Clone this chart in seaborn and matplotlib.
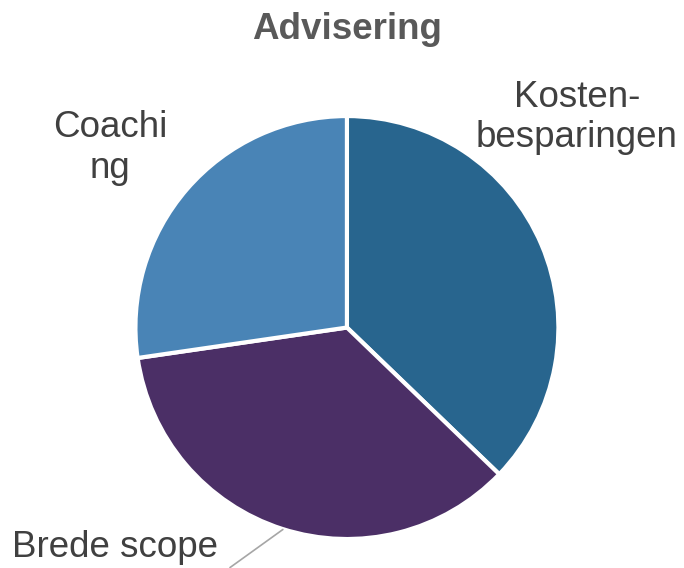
import matplotlib
matplotlib.use("Agg")
import matplotlib.pyplot as plt
import seaborn as sns

sns.set_theme(style="white")
plt.rcParams['font.family'] = ['Liberation Sans', 'DejaVu Sans']

# data
categories = ["Kosten-\nbesparingen", "Brede scope", "Coachi\nng"]
shares = [37.2, 35.5, 27.3]
colours = ["#28658E", "#4B2F66", "#4984B6"]

fig = plt.figure(figsize=(6.84, 5.68), dpi=100)
ax = fig.add_axes([0.198, 0.051, 0.6184, 0.7447])

ax.pie(shares, colors=colours, startangle=90, counterclock=False,
       wedgeprops=dict(edgecolor="white", linewidth=3))
ax.set_xlim(-1, 1)
ax.set_ylim(-1, 1)
ax.set_aspect("equal")
ax.axis("off")

txt = dict(fontsize=26.5, color="#404040", ha="center", va="center",
           linespacing=1.22)
ax.text(1.087, 0.993, categories[0], clip_on=False, **txt)
ax.text(-1.12, 0.849, categories[2], clip_on=False, **txt)
ax.text(-1.097, -1.038, categories[1], clip_on=False, **txt)
ax.plot([-0.553, -0.303], [-1.135, -0.955], color="#A6A6A6", lw=1.2,
        clip_on=False)

fig.text(0.507, 0.948, "Advisering", fontsize=26.5, fontweight="bold",
         color="#595959", ha="center", va="center")

fig.savefig("out.png", dpi=100)
